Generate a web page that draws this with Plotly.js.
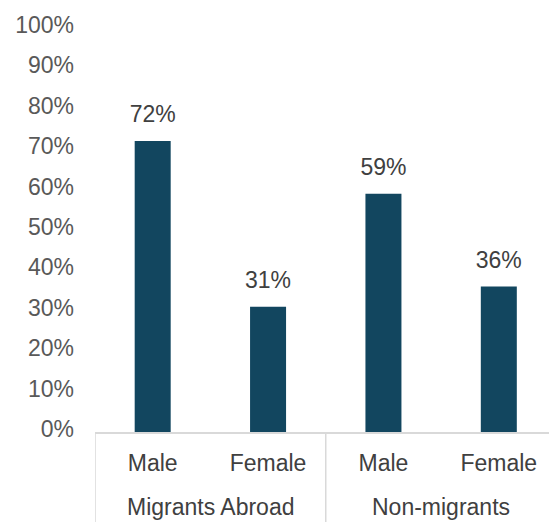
<!DOCTYPE html>
<html>
<head>
<meta charset="utf-8">
<script src="https://cdn.plot.ly/plotly-3.0.1.min.js"></script>
<style>html,body{margin:0;padding:0;background:#fff;}#chart{width:549px;height:522px;}</style>
</head>
<body>
<div id="chart"></div>
<script>
const groups = ["Migrants Abroad", "Migrants Abroad", "Non-migrants", "Non-migrants"];
const genders = ["Male", "Female", "Male", "Female"];
const values = [72, 31, 59, 36];
const labels = ["72%", "31%", "59%", "36%"];
const yTickVals = [0, 10, 20, 30, 40, 50, 60, 70, 80, 90, 100];
const yTickText = ["0%", "10%", "20%", "30%", "40%", "50%", "60%", "70%", "80%", "90%", "100%"];

const barColor = "#12465f";
const fontFam = "Arial, 'Liberation Sans', sans-serif";
const lineColor = "#d9d9d9";

// unique category keys built from the group and gender arrays
const cats = groups.map((g, i) => g + " | " + genders[i]);

// group spans (start/end index) derived from the groups array
const spans = [];
groups.forEach((g, i) => {
  if (!spans.length || spans[spans.length - 1].name !== g) spans.push({name: g, start: i, end: i});
  else spans[spans.length - 1].end = i;
});

const annotations = spans.map(s => ({
  x: (s.start + s.end) / 2,
  xref: "x",
  y: 0,
  yref: "paper",
  yanchor: "middle",
  yshift: -75,
  text: s.name,
  showarrow: false,
  font: {family: fontFam, size: 23, color: "#404040"}
}));

const boundaries = [spans[0].start - 0.5].concat(spans.map(s => s.end + 0.5));
const shapes = boundaries.map(b => ({
  type: "line",
  xref: "x",
  yref: "paper",
  x0: b, x1: b,
  y0: 0, y1: -0.3,
  line: {color: lineColor, width: 1.5}
}));

const traces = [
  {
    type: "bar",
    x: cats,
    y: values,
    marker: {color: barColor},
    width: 0.312,
    hoverinfo: "none"
  },
  {
    type: "scatter",
    mode: "markers+text",
    x: cats,
    y: values,
    text: labels,
    textposition: "top center",
    textfont: {family: fontFam, size: 23, color: "#404040"},
    marker: {size: 19, opacity: 0},
    hoverinfo: "none",
    cliponaxis: false
  }
];

const layout = {
  width: 549,
  height: 522,
  margin: {l: 94.5, r: 0, t: 28, b: 90},
  paper_bgcolor: "#ffffff",
  plot_bgcolor: "#ffffff",
  showlegend: false,
  xaxis: {
    type: "category",
    range: [-0.5, 3.435],
    tickvals: cats,
    ticktext: genders,
    showline: true,
    linecolor: lineColor,
    linewidth: 1.5,
    ticks: "",
    ticklabelstandoff: 10,
    tickfont: {family: fontFam, size: 23, color: "#404040"},
    showgrid: false,
    zeroline: false
  },
  yaxis: {
    range: [0, 100],
    tickvals: yTickVals,
    ticktext: yTickText,
    tickfont: {family: fontFam, size: 23, color: "#595959"},
    showgrid: false,
    zeroline: false,
    showline: false,
    ticks: "",
    ticklabelstandoff: 20,
    ticklabelshift: -3
  },
  annotations: annotations,
  shapes: shapes,
  font: {family: fontFam}
};

Plotly.newPlot("chart", traces, layout, {displayModeBar: false, staticPlot: true});
</script>
</body>
</html>
